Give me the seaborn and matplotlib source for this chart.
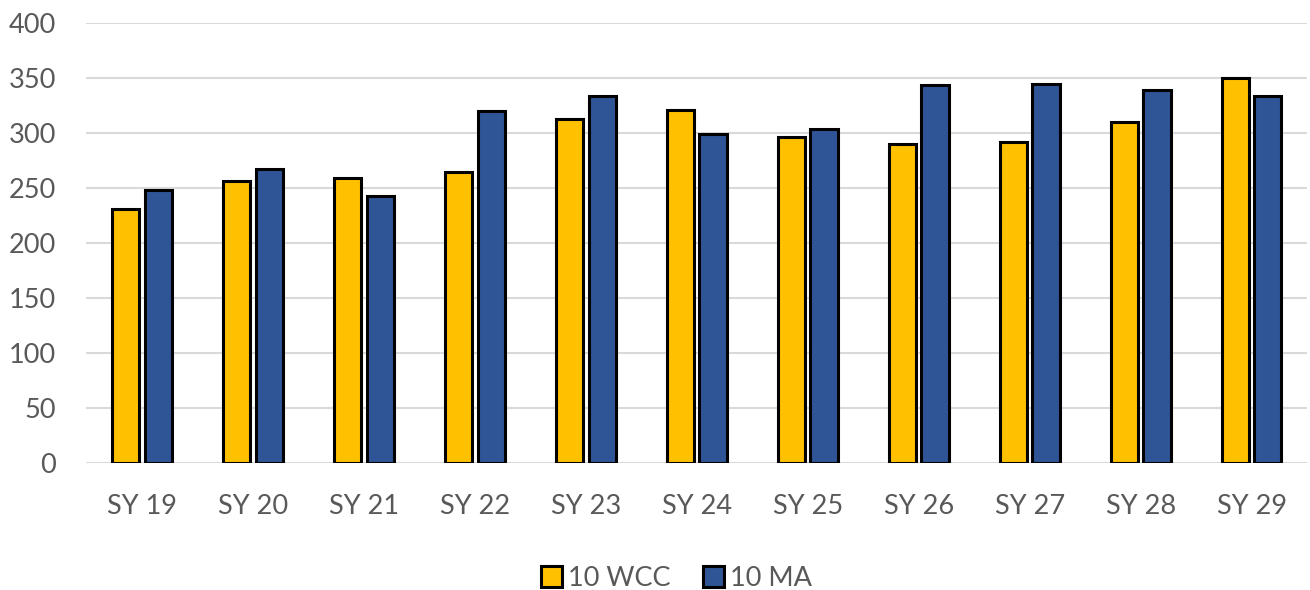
import matplotlib
matplotlib.use("Agg")
import matplotlib.pyplot as plt
import pandas as pd
import seaborn as sns

# values
years = ["SY 19", "SY 20", "SY 21", "SY 22", "SY 23", "SY 24",
         "SY 25", "SY 26", "SY 27", "SY 28", "SY 29"]
wcc = [231, 256, 259, 265, 313, 321, 296, 290, 292, 310, 350]
ma = [248, 267, 243, 320, 334, 299, 304, 344, 345, 339, 334]
series = ["10 WCC", "10 MA"]
colors = ["#FFC000", "#2F5597"]

df = pd.DataFrame({
    "year": years * 2,
    "value": wcc + ma,
    "series": [series[0]] * len(years) + [series[1]] * len(years),
})

sns.set_style("white")
plt.rcParams["font.family"] = ["Lato", "DejaVu Sans"]

fig = plt.figure(figsize=(13.1, 5.9), dpi=100)
ax = fig.add_axes([0.066, 0.215, 0.932, 0.746])

sns.barplot(data=df, x="year", y="value", hue="series", palette=colors,
            saturation=1, width=0.58, gap=0.16, edgecolor="black",
            linewidth=2.2, ax=ax, zorder=3)

ax.set_ylim(0, 400)
ax.set_xlim(-0.5, 10.5)
ax.set_yticks(range(0, 401, 50))
ax.grid(axis="y", color="#d9d9d9", linewidth=1.5, zorder=0)
ax.set_axisbelow(True)
for s in ax.spines.values():
    s.set_visible(False)
ax.tick_params(axis="both", length=0, labelsize=19.5, colors="#595959")
ax.tick_params(axis="x", pad=22)
ax.tick_params(axis="y", pad=22)
ax.set_xlabel("")
ax.set_ylabel("")

handles, labels = ax.get_legend_handles_labels()
for h in handles:
    h.set_linewidth(2.2)
ax.legend(handles, labels, loc="lower center", bbox_to_anchor=(0.483, -0.345),
          ncol=2, frameon=False, fontsize=19.5, labelcolor="#595959",
          handlelength=0.8, handleheight=0.8, handletextpad=0.2,
          columnspacing=1.2)

fig.savefig("out.png", dpi=100)
